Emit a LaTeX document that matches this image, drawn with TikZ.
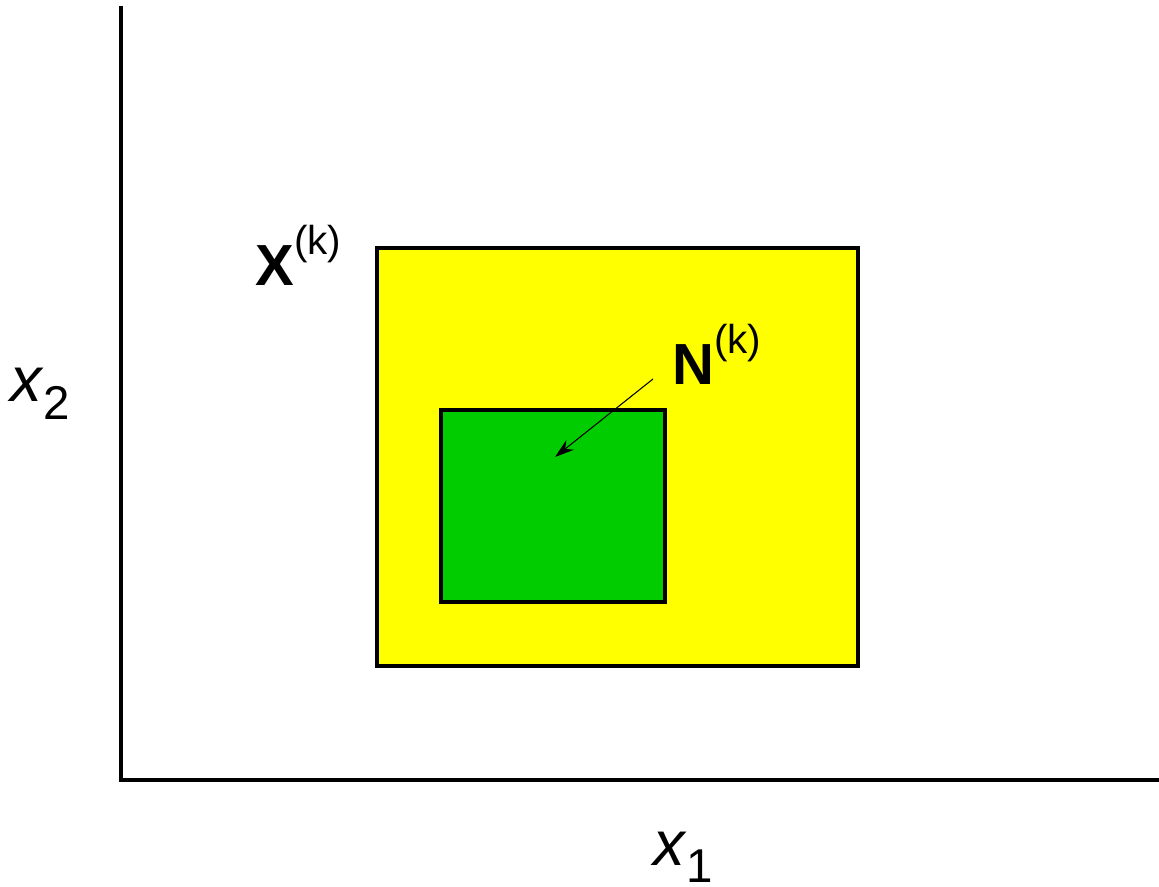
\documentclass[tikz,border=0pt]{standalone}
\usepackage{fontspec}
\setmainfont{Liberation Sans}
\usepackage{xcolor}
\usetikzlibrary{arrows.meta,positioning}
\definecolor{SetYellow}{RGB}{255,255,0}
\definecolor{SetGreen}{RGB}{0,204,0}
\tikzset{
  axis/.style={draw=black,line width=2.2pt,line cap=rect},
  ybox/.style={draw=black,fill=SetYellow,line width=1.9pt},
  gbox/.style={draw=black,fill=SetGreen,line width=1.9pt},
  lbl/.style={inner sep=0pt,anchor=base west},
  arr/.style={-{Stealth[length=11pt,width=7pt]},black,line width=0.6pt},
}
\newcommand{\setlbl}[1]{\fontsize{33}{36}\selectfont\textbf{#1}%
  \raisebox{0.55em}{\fontsize{23}{25}\selectfont(k)}}
\newcommand{\axlbl}[1]{\fontsize{36}{40}\selectfont\textit{x}%
  \raisebox{-0.28em}{\fontsize{27}{30}\selectfont #1}}

\begin{document}
\begin{tikzpicture}
        \useasboundingbox (0,0) rectangle (23.18,17.72);
        % axes
        \coordinate (o) at (2.42,2.12);
        \coordinate (ytop) at (2.42,17.56);
        \coordinate (xend) at (23.18,2.12);
        \draw[axis] (ytop)--(o)--(xend);
        % sets
        \draw[ybox] (7.54,4.40) rectangle (17.16,12.76);
        \draw[gbox] (8.82,5.68) rectangle (13.30,9.52);
        % labels
        \node[lbl] (xk) at (5.10,12.00) {\setlbl{X}};
        \node[lbl] (nk) at (13.44,10.02) {\setlbl{N}};
        \node[lbl] (x2) at (0.20,9.68) {\axlbl{2}};
        \node[lbl] (x1) at (13.06,0.42) {\axlbl{1}};
        % pointer
        \coordinate (nstart) at (13.06,10.14);
        \coordinate (ntip) at (11.10,8.58);
        \draw[arr] (nstart)--(ntip);
      \end{tikzpicture}
\end{document}
